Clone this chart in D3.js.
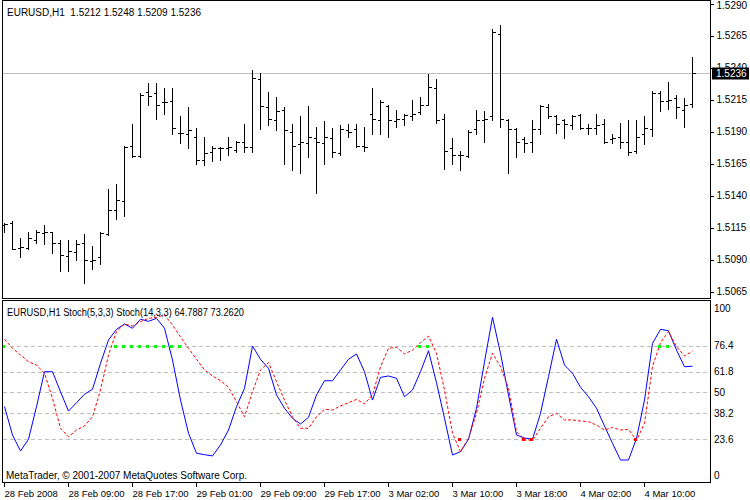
<!DOCTYPE html>
<html><head><meta charset="utf-8">
<script src="https://cdn.jsdelivr.net/npm/d3@7/dist/d3.min.js"></script>
<style>
html,body{margin:0;padding:0;background:#fff;}
svg{display:block;font-family:"Liberation Sans",Arial,sans-serif;font-size:10px;}
text{white-space:pre;}
</style></head><body>
<svg id="c" width="750" height="500"></svg>
<script>
// ---- data ----
const symbolTitle = "EURUSD,H1  1.5212 1.5248 1.5209 1.5236";
const stochTitle = "EURUSD,H1 Stoch(5,3,3) Stoch(14,3,3) 64.7887 73.2620";
const copyright = "MetaTrader, \u00A9 2001-2007 MetaQuotes Software Corp.";
const lastPrice = 1.5236;

const opens = [1.5117,1.5119,1.5099,1.5099,1.5105,1.5111,1.5112,1.5103,1.5093,1.5096,
1.5103,1.5089,1.5092,1.5110,1.5129,1.5136,1.5179,1.5171,1.5221,1.5220,
1.5213,1.5214,1.5189,1.5188,1.5186,1.5168,1.5174,1.5177,1.5177,1.5176,
1.5182,1.5178,1.5231,1.5209,1.5199,1.5207,1.5190,1.5180,1.5181,1.5185,
1.5181,1.5185,1.5173,1.5191,1.5192,1.5179,1.5204,1.5199,1.5210,1.5198,
1.5200,1.5202,1.5205,1.5211,1.5224,1.5200,1.5177,1.5172,1.5171,1.5192,
1.5199,1.5202,1.5266,1.5199,1.5192,1.5184,1.5182,1.5192,1.5209,1.5202,
1.5199,1.5195,1.5203,1.5193,1.5193,1.5196,1.5184,1.5186,1.5182,1.5175,
1.5188,1.5192,1.5220,1.5214,1.5216,1.5207,1.5212];
const highs = [1.5119,1.5120,1.5107,1.5112,1.5113,1.5117,1.5112,1.5105,1.5105,1.5105,
1.5110,1.5101,1.5112,1.5145,1.5149,1.5179,1.5196,1.5220,1.5228,1.5228,
1.5224,1.5224,1.5202,1.5209,1.5193,1.5186,1.5179,1.5178,1.5186,1.5183,
1.5196,1.5238,1.5236,1.5221,1.5217,1.5209,1.5196,1.5202,1.5210,1.5194,
1.5198,1.5193,1.5195,1.5196,1.5196,1.5194,1.5224,1.5215,1.5211,1.5207,
1.5204,1.5215,1.5217,1.5235,1.5231,1.5204,1.5185,1.5175,1.5191,1.5207,
1.5206,1.5270,1.5273,1.5200,1.5193,1.5186,1.5199,1.5211,1.5212,1.5203,
1.5200,1.5203,1.5204,1.5196,1.5204,1.5200,1.5188,1.5197,1.5199,1.5199,
1.5202,1.5222,1.5222,1.5229,1.5219,1.5216,1.5248];
const lows = [1.5112,1.5098,1.5092,1.5098,1.5103,1.5102,1.5095,1.5081,1.5081,1.5090,
1.5072,1.5083,1.5087,1.5109,1.5122,1.5124,1.5170,1.5170,1.5211,1.5200,
1.5204,1.5188,1.5181,1.5177,1.5165,1.5164,1.5167,1.5168,1.5172,1.5174,
1.5174,1.5174,1.5192,1.5195,1.5191,1.5165,1.5160,1.5158,1.5170,1.5142,
1.5165,1.5170,1.5172,1.5186,1.5178,1.5175,1.5188,1.5188,1.5186,1.5194,
1.5195,1.5199,1.5204,1.5211,1.5197,1.5161,1.5165,1.5160,1.5170,1.5188,
1.5182,1.5199,1.5194,1.5158,1.5170,1.5174,1.5174,1.5188,1.5201,1.5189,
1.5185,1.5192,1.5192,1.5188,1.5188,1.5181,1.5181,1.5177,1.5172,1.5173,
1.5180,1.5187,1.5206,1.5208,1.5201,1.5194,1.5209];
const closes = [1.5118,1.5098,1.5100,1.5107,1.5112,1.5112,1.5103,1.5094,1.5097,1.5102,
1.5090,1.5090,1.5111,1.5129,1.5137,1.5178,1.5171,1.5219,1.5218,1.5211,
1.5213,1.5193,1.5189,1.5191,1.5168,1.5173,1.5177,1.5177,1.5178,1.5182,
1.5178,1.5232,1.5210,1.5200,1.5206,1.5191,1.5179,1.5182,1.5186,1.5182,
1.5186,1.5174,1.5192,1.5190,1.5179,1.5178,1.5200,1.5213,1.5199,1.5200,
1.5203,1.5204,1.5211,1.5225,1.5199,1.5175,1.5172,1.5172,1.5190,1.5199,
1.5200,1.5268,1.5200,1.5192,1.5182,1.5181,1.5192,1.5210,1.5202,1.5196,
1.5196,1.5202,1.5193,1.5193,1.5195,1.5182,1.5185,1.5182,1.5174,1.5186,
1.5193,1.5220,1.5214,1.5215,1.5209,1.5211,1.5236];

// Stoch(5,3,3) main (blue solid)
const stochFast = [42.0,26.0,17.0,23.6,42.0,61.7,61.7,50.4,39.5,44.2,
49.0,51.8,66.4,79.6,85.6,88.6,86.2,91.3,90.1,91.8,
86.2,68.3,45.7,27.0,15.7,14.9,14.2,20.4,28.8,42.0,
52.3,76.2,68.7,63.6,48.6,41.1,35.4,32.2,36.0,48.6,
56.6,56.6,62.7,68.7,71.7,61.7,45.7,58.5,59.3,58.0,
47.6,51.4,61.7,73.5,55.5,35.4,14.7,16.6,23.6,41.1,
67.3,92.4,72.1,48.6,26.0,24.3,23.6,38.2,58.9,80.0,
65.5,60.8,52.9,47.6,41.1,31.1,21.3,11.9,11.9,24.1,
45.7,77.7,85.6,84.8,73.9,64.5,64.7887];
// Stoch(14,3,3) main (red dashed)
const stochSlow = [80.0,74.9,71.1,67.3,65.5,60.8,46.7,29.8,25.0,28.8,
31.1,36.3,51.4,71.1,84.3,88.6,87.5,89.9,91.8,92.4,
93.7,88.0,81.4,74.9,68.7,62.7,59.3,56.6,52.9,44.8,
36.3,50.4,62.7,66.8,56.1,45.7,36.3,29.8,29.8,36.3,
40.5,40.1,42.4,44.2,46.1,43.5,48.6,64.5,74.9,75.5,
71.7,73.9,78.1,81.8,72.1,51.4,27.0,16.6,24.1,38.2,
58.0,72.1,64.5,52.3,27.9,23.2,23.0,29.8,36.3,38.2,
34.5,34.5,33.9,33.5,31.6,28.8,30.3,28.8,29.2,23.0,
32.6,64.5,78.1,84.3,75.8,70.6,73.2620];

const overboughtDots = [0,14,15,16,17,18,19,20,21,22,52,53,82,83];
const oversoldDots = [57,65,66,79];

const priceTicks = [1.5065,1.5090,1.5115,1.5140,1.5165,1.5190,1.5215,1.5240,1.5265,1.5290];
const stochLevels = [23.6,38.2,50,61.8,76.4];
const stochLabels = [0,23.6,38.2,50,61.8,76.4,100];
const timeLabelIdx = [0,8,16,24,32,40,48,56,64,72,80];
const timeLabels = ["28 Feb 2008","28 Feb 09:00","28 Feb 17:00","29 Feb 01:00","29 Feb 09:00","29 Feb 17:00","3 Mar 02:00","3 Mar 10:00","3 Mar 18:00","4 Mar 02:00","4 Mar 10:00"];

// ---- layout ----
const L = 2.5, R = 710.5;
const mainT = 0.5, mainB = 298.5, subT = 300.5, subB = 482.5;

const svg = d3.select("#c");
const x = d3.scaleLinear().domain([0, 86]).range([4, 692]);
const px = i => Math.round(x(i)) + 0.5;
const yP = d3.scaleLinear().domain([1.5065, 1.5290]).range([291.7, 3.7]);
const yS = d3.scaleLinear().domain([0, 100]).range([481.1, 303.8]);
const ry = v => Math.round(v) + 0.5;

const defs = svg.append("defs");
defs.append("clipPath").attr("id","cm").append("rect").attr("x",L).attr("y",mainT).attr("width",R-L).attr("height",mainB-mainT);
defs.append("clipPath").attr("id","cs").append("rect").attr("x",L).attr("y",subT).attr("width",R-L).attr("height",subB-subT);

// ---- main panel ----
const gm = svg.append("g").attr("clip-path","url(#cm)");
gm.append("line").attr("x1",L).attr("x2",R).attr("y1",ry(yP(lastPrice))).attr("y2",ry(yP(lastPrice)))
  .attr("stroke","#c0c0c0").attr("stroke-width",1);

const bars = d3.range(opens.length);
const gb = gm.append("g").attr("stroke","#000").attr("stroke-width",1).attr("shape-rendering","crispEdges");
gb.selectAll("line.hl").data(bars).join("line").attr("class","hl")
  .attr("x1",px).attr("x2",px)
  .attr("y1",i=>Math.round(yP(highs[i]))).attr("y2",i=>Math.round(yP(lows[i]))+1);
gb.selectAll("line.op").data(bars).join("line").attr("class","op")
  .attr("x1",i=>px(i)-3).attr("x2",i=>px(i))
  .attr("y1",i=>ry(yP(opens[i]))).attr("y2",i=>ry(yP(opens[i])));
gb.selectAll("line.cl").data(bars).join("line").attr("class","cl")
  .attr("x1",i=>px(i)).attr("x2",i=>px(i)+3.5)
  .attr("y1",i=>ry(yP(closes[i]))).attr("y2",i=>ry(yP(closes[i])));

svg.append("rect").attr("x",L).attr("y",mainT).attr("width",R-L).attr("height",mainB-mainT)
  .attr("fill","none").attr("stroke","#000").attr("shape-rendering","crispEdges");

svg.append("text").attr("x",7).attr("y",15.5).attr("fill","#000").text(symbolTitle);

// price axis
const pa = svg.append("g").attr("transform",`translate(${R},0)`)
  .call(d3.axisRight(yP).tickValues(priceTicks).tickSize(3).tickPadding(3).tickFormat(d3.format(".4f")));
pa.select(".domain").remove();
pa.selectAll(".tick line").attr("stroke","#000").attr("shape-rendering","crispEdges");
pa.selectAll(".tick text").attr("fill","#000").style("font-family","'Liberation Sans',Arial,sans-serif").style("font-size","10px")
  .attr("y",d=>Math.max(0, 5.5 - yP(d)));

// last price box
svg.append("rect").attr("x",712).attr("y",ry(yP(lastPrice))-6).attr("width",37).attr("height",12).attr("fill","#000");
svg.append("text").attr("x",716).attr("y",ry(yP(lastPrice))+3.5).attr("fill","#fff").text(d3.format(".4f")(lastPrice));

// ---- stochastic panel ----
const gs = svg.append("g").attr("clip-path","url(#cs)");
gs.selectAll("line.lvl").data(stochLevels).join("line").attr("class","lvl")
  .attr("x1",L).attr("x2",R).attr("y1",d=>ry(yS(d))).attr("y2",d=>ry(yS(d)))
  .attr("stroke","#c0c0c0").attr("stroke-dasharray","4,3").attr("shape-rendering","crispEdges");

const lineFast = d3.line().x((d,i)=>px(i)).y(d=>yS(d));
gs.append("path").attr("d",lineFast(stochFast)).attr("fill","none").attr("stroke","#0000ff").attr("stroke-width",1);
gs.append("path").attr("d",lineFast(stochSlow)).attr("fill","none").attr("stroke","#ff0000").attr("stroke-width",1).attr("stroke-dasharray","3,2");

gs.selectAll("rect.ob").data(overboughtDots).join("rect").attr("class","ob")
  .attr("x",i=>px(i)-2.5).attr("y",ry(yS(76.4))-1.5).attr("width",3).attr("height",3).attr("fill","#00ff00");
gs.selectAll("rect.os").data(oversoldDots).join("rect").attr("class","os")
  .attr("x",i=>px(i)-2.5).attr("y",ry(yS(23.6))-1.5).attr("width",3).attr("height",3).attr("fill","#ff0000");

svg.append("rect").attr("x",L).attr("y",subT).attr("width",R-L).attr("height",subB-subT)
  .attr("fill","none").attr("stroke","#000").attr("shape-rendering","crispEdges");

svg.append("text").attr("x",7).attr("y",315.5).attr("fill","#000")
  .attr("textLength",237).attr("lengthAdjust","spacingAndGlyphs").text(stochTitle);
svg.append("text").attr("x",6).attr("y",478.5).attr("fill","#000").text(copyright);

// stoch labels
svg.append("g").selectAll("text").data(stochLabels).join("text")
  .attr("x",714).attr("y",d=>Math.min(Math.max(yS(d),308),475)+3.5)
  .attr("fill","#000").text(d=>d);

// time axis
const ta = svg.append("g").attr("transform",`translate(0,${subB})`)
  .call(d3.axisBottom(x).tickValues(timeLabelIdx).tickSize(4).tickPadding(4).tickFormat((d,k)=>timeLabels[k]));
ta.select(".domain").remove();
ta.selectAll(".tick").attr("transform",d=>`translate(${px(d)},0)`);
ta.selectAll(".tick line").attr("stroke","#000").attr("shape-rendering","crispEdges");
ta.selectAll(".tick text").attr("text-anchor","start").attr("x",0).attr("fill","#000")
  .style("font-family","'Liberation Sans',Arial,sans-serif").style("font-size","9.5px");
</script>
</body></html>
